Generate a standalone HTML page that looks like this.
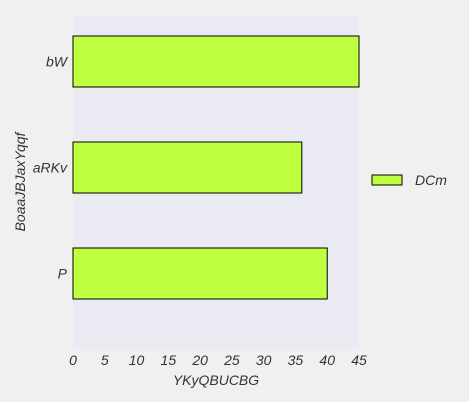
<!DOCTYPE html>
<html><head><meta charset="utf-8"><style>
html,body{margin:0;padding:0;background:#f0f0f0;}
svg{display:block;font-family:"Liberation Sans",sans-serif;font-style:italic;}
</style></head><body>
<svg width="469" height="402" viewBox="0 0 469 402">
<rect x="0" y="0" width="469" height="402" fill="#f0f0f0"/>
<rect x="73" y="15" width="286" height="334" fill="#eaeaf2"/>
<g id="bars"></g>
<g id="xticks"></g>
<g id="yticks"></g>
<text x="216" y="385" font-size="14" fill="#333" text-anchor="middle">YKyQBUCBG</text>
<text transform="translate(25,182) rotate(-90)" font-size="14" fill="#333" text-anchor="middle">BoaaJBJaxYqqf</text>
<g>
<rect x="372" y="175" width="30" height="10" fill="#bfff3f" stroke="#000" stroke-width="1"/>
<text x="415" y="185" font-size="14" fill="#333">DCm</text>
</g>
</svg>
<script>
const categories = ["P", "aRKv", "bW"];
const values = [40, 36, 45];
const xTicks = [0, 5, 10, 15, 20, 25, 30, 35, 40, 45];
const ns = "http://www.w3.org/2000/svg";
function xs(v){ return 73 + v * (286 / 45); }
function yc(i){ return 273.5 - i * 106; }
const bars = document.getElementById("bars");
categories.forEach((c, i) => {
  const r = document.createElementNS(ns, "rect");
  r.setAttribute("x", xs(0));
  r.setAttribute("y", yc(i) - 25.5);
  r.setAttribute("width", xs(values[i]) - xs(0));
  r.setAttribute("height", 51);
  r.setAttribute("fill", "#bfff3f");
  r.setAttribute("stroke", "#000");
  r.setAttribute("stroke-width", "1");
  
  
  bars.appendChild(r);
  const t = document.createElementNS(ns, "text");
  t.setAttribute("x", 67);
  t.setAttribute("y", yc(i) + 5);
  t.setAttribute("font-size", "14");
  t.setAttribute("fill", "#333");
  t.setAttribute("text-anchor", "end");
  t.textContent = c;
  
  
  document.getElementById("yticks").appendChild(t);
});
xTicks.forEach(v => {
  const t = document.createElementNS(ns, "text");
  t.setAttribute("x", xs(v));
  t.setAttribute("y", 365);
  t.setAttribute("font-size", "14");
  t.setAttribute("fill", "#333");
  t.setAttribute("text-anchor", "middle");
  t.textContent = v;
  
  
  document.getElementById("xticks").appendChild(t);
});
</script>
</body></html>
